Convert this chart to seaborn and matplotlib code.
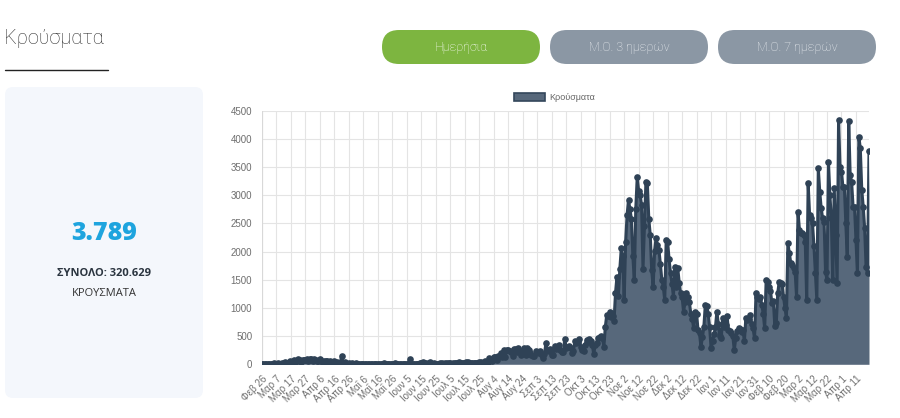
import numpy as np
import pandas as pd
import seaborn as sns
import matplotlib.pyplot as plt
from matplotlib.patches import FancyBboxPatch, Patch

# daily cases, one list per month (26 Feb 2020 -> 20 Apr 2021)
feb_2020 = [1, 2, 1, 0]
mar_2020 = [3, 0, 0, 2, 22, 14, 2, 20, 10, 7, 17, 29, 38, 30, 24, 53, 31, 31, 77, 35,
            54, 94, 71, 48, 78, 71, 73, 95, 64, 87, 102]
apr_2020 = [50, 99, 82, 62, 58, 95, 54, 25, 56, 64, 52, 35, 61, 25, 41, 55, 11, 33, 20, 9,
            156, 15, 48, 13, 14, 15, 11, 29, 12, 7]
may_2020 = [15, 11, 14, 10, 3, 4, 5, 12, 4, 10, 2, 6, 10, 12, 3, 10, 4, 10, 6, 21,
            8, 3, 0, 12, 4, 3, 10, 17, 1, 9, 5]
jun_2020 = [7, 1, 1, 4, 8, 10, 97, 5, 3, 11, 7, 14, 6, 16, 19, 45, 23, 22, 13, 24,
            35, 12, 8, 18, 10, 5, 12, 27, 15, 14]
jul_2020 = [21, 14, 18, 21, 29, 12, 16, 25, 19, 30, 41, 28, 19, 22, 17, 35, 42, 28, 27, 22,
            29, 30, 21, 25, 36, 41, 18, 31, 57, 34, 43]
aug_2020 = [110, 75, 57, 124, 125, 80, 153, 151, 203, 126, 262, 138, 262, 254, 230, 217, 150,
            269, 269, 211, 284, 228, 170, 203, 284, 160, 293, 247, 196, 168, 150]
sep_2020 = [156, 241, 211, 198, 239, 165, 113, 191, 372, 254, 243, 277, 159, 169, 329, 264,
            293, 338, 246, 216, 218, 453, 281, 302, 329, 287, 208, 234, 411, 375]
oct_2020 = [390, 453, 309, 250, 232, 342, 430, 395, 451, 411, 343, 182, 339, 384, 475, 484,
            508, 459, 313, 667, 882, 865, 935, 841, 865, 763, 1259, 1547, 1211, 1690, 2056]
nov_2020 = [1914, 1146, 2166, 2646, 2917, 2752, 2580, 1914, 1497, 2752, 3316, 3078, 3004,
            2835, 1695, 2456, 3227, 3209, 2581, 2294, 1670, 1377, 2012, 2240, 2117, 2028,
            1778, 1498, 1377, 1138]
dec_2020 = [2199, 2176, 1860, 1614, 1432, 1200, 1731, 1377, 1700, 1450, 1260, 1190, 934,
            1100, 1260, 1200, 1100, 900, 804, 638, 934, 900, 600, 550, 313, 480, 660, 1052,
            1040, 900, 660]
jan_2021 = [284, 412, 540, 660, 934, 720, 500, 461, 830, 660, 700, 860, 600, 589, 560, 500,
            254, 460, 590, 640, 620, 580, 600, 412, 830, 780, 809, 880, 720, 636, 460]
feb_2021 = [1260, 1200, 1150, 1200, 1050, 900, 636, 1495, 1460, 1380, 1300, 1080, 1120, 672,
            730, 1260, 1466, 1450, 1430, 1200, 1000, 820, 2147, 1970, 1800, 1770, 1700, 1643]
mar_2021 = [1200, 2702, 2383, 2324, 2324, 2300, 2176, 1141, 3211, 2650, 2590, 2500, 2100,
            1614, 1141, 3478, 3065, 2768, 2590, 2530, 1643, 1495, 3596, 3004, 2590, 1495,
            3134, 2300, 1437, 4340, 3506]
apr_2021 = [3418, 3152, 3152, 2500, 1910, 4309, 3359, 3240, 2797, 2800, 2200, 1614, 4040,
            3830, 3098, 2800, 2413, 1720, 1614, 3789]

tick_labels = ["Φεβ 26", "Μαρ 7", "Μαρ 17", "Μαρ 27", "Απρ 6", "Απρ 16", "Απρ 26",
               "Μαΐ 6", "Μαΐ 16", "Μαΐ 26", "Ιουν 5", "Ιουν 15", "Ιουν 25", "Ιουλ 5",
               "Ιουλ 15", "Ιουλ 25", "Αυγ 4", "Αυγ 14", "Αυγ 24", "Σεπ 3", "Σεπ 13",
               "Σεπ 23", "Οκτ 3", "Οκτ 13", "Οκτ 23", "Νοε 2", "Νοε 12", "Νοε 22",
               "Δεκ 2", "Δεκ 12", "Δεκ 22", "Ιαν 1", "Ιαν 11", "Ιαν 21", "Ιαν 31",
               "Φεβ 10", "Φεβ 20", "Μαρ 2", "Μαρ 12", "Μαρ 22", "Απρ 1", "Απρ 11"]

buttons = ["Ημερήσια", "Μ.Ο. 3 ημερών", "Μ.Ο. 7 ημερών"]
latest = "3.789"
total = "ΣΥΝΟΛΟ: 320.629"

cases = (feb_2020 + mar_2020 + apr_2020 + may_2020 + jun_2020 + jul_2020 + aug_2020 +
         sep_2020 + oct_2020 + nov_2020 + dec_2020 + jan_2021 + feb_2021 + mar_2021 + apr_2021)
df = pd.DataFrame({"day": np.arange(len(cases)), "cases": cases})

sns.set_theme(style="white")
plt.rcParams["font.family"] = ["Liberation Sans", "DejaVu Sans"]

W, H = 900, 418
fig = plt.figure(figsize=(9, 4.18), dpi=100)
fig.patch.set_facecolor("white")

# page furniture in pixel coordinates
bg = fig.add_axes([0, 0, 1, 1], zorder=0)
bg.set_xlim(0, W)
bg.set_ylim(H, 0)
bg.axis("off")

bg.text(4, 38, "Κρούσματα", fontsize=14.5, color="#333333", va="center", ha="left",
        family="Roboto", fontweight="light")
bg.plot([5, 108], [70, 70], color="#222222", lw=1)

bg.add_patch(FancyBboxPatch((5, 87), 198, 311, boxstyle="round,pad=0,rounding_size=8",
                            fc="#f4f7fc", ec="none"))
bg.text(104, 233, latest, fontsize=18, color="#1ea4de", ha="center", va="center",
        family="Open Sans", fontweight="heavy")
bg.text(104, 273, total, fontsize=8, color="#2b3540", ha="center", va="center",
        family="Open Sans", fontweight="bold")
bg.text(104, 293, "ΚΡΟΥΣΜΑΤΑ", fontsize=8, color="#333333", ha="center", va="center",
        family="Open Sans")

btn_colors = ["#7db540", "#8b97a4", "#8b97a4"]
btn_text = ["white", "#eef1f4", "#eef1f4"]
for i, (label, c, tc) in enumerate(zip(buttons, btn_colors, btn_text)):
    x0 = 382 + i * 168
    bg.add_patch(FancyBboxPatch((x0, 30), 158, 34, boxstyle="round,pad=0,rounding_size=17",
                                fc=c, ec="none"))
    bg.text(x0 + 79, 47.5, label, fontsize=9, color=tc, ha="center", va="center",
            family="Roboto", fontweight="light")

# chart
ax = fig.add_axes([262 / W, 1 - 364.3 / H, (869 - 262) / W, (364.3 - 110.7) / H], zorder=1)
ax.patch.set_alpha(0)

ax.fill_between(df["day"], df["cases"], color="#57687b", lw=0, zorder=2)
sns.lineplot(data=df, x="day", y="cases", ax=ax, color="#2f4256", linewidth=2.2,
             marker="o", markersize=4.8, markeredgewidth=0, zorder=3)

ax.set_xlim(0, len(cases) - 1)
ax.set_ylim(0, 4500)
ax.set_yticks(np.arange(0, 4501, 500))
ax.set_xticks(np.arange(0, len(cases), 10))
ax.set_xticklabels(tick_labels, rotation=45, ha="right", rotation_mode="anchor")
ax.tick_params(axis="both", labelsize=7, colors="#6e6e6e", length=4, width=0.8, pad=3)
ax.tick_params(axis="both", color="#e4e4e4")
ax.grid(True, color="#e4e4e4", linewidth=0.8)
ax.set_axisbelow(True)
for s in ax.spines.values():
    s.set_visible(False)
ax.axvline(0, color="#d8d8d8", lw=0.8, zorder=1)
ax.set_xlabel("")
ax.set_ylabel("")

ax.legend(handles=[Patch(fc="#57687b", ec="#34475b", lw=1.2, label="Κρούσματα")],
          loc="center", bbox_to_anchor=(555 / W, 1 - 97.5 / H),
          bbox_transform=fig.transFigure, frameon=False, fontsize=6.5,
          handlelength=3.4, handleheight=1.0, handletextpad=0.5, labelcolor="#666666")

fig.savefig("out.png", dpi=100, facecolor="white")
